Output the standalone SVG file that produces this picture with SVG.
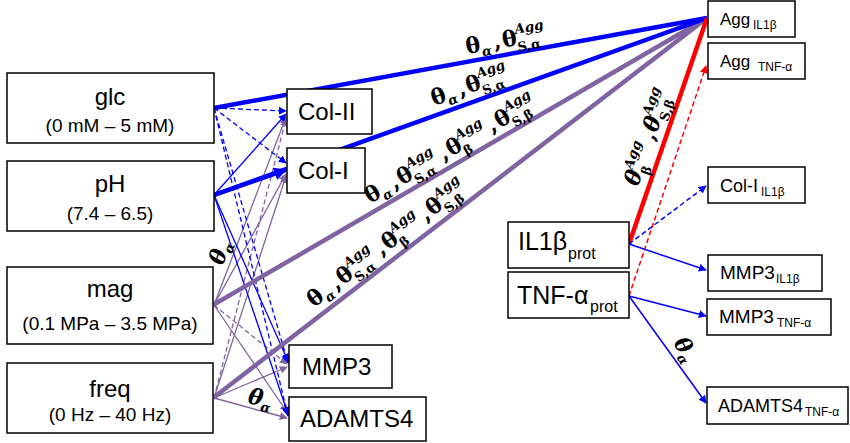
<svg xmlns="http://www.w3.org/2000/svg" width="850" height="443" viewBox="0 0 850 443">
<style>
.box{fill:#fff;stroke:#000;stroke-width:1.5}
.t{font-family:"Liberation Sans",Arial,sans-serif;fill:#000}
.b{stroke:#0000ff;fill:none}
.p{stroke:#8064a2;fill:none}
.r{stroke:#ff0000;fill:none}
.thin{stroke-width:1.3}
.thick{stroke-width:4.5}
.d{stroke-dasharray:5,3}
.m{font-family:"DejaVu Serif",serif;font-weight:bold;font-size:22px;fill:#000}
.sup{font-size:13.5px;font-style:italic}
.sub{font-size:13px}
.it{font-style:italic}
</style>
<defs>
<marker id="ab" viewBox="0 0 10 10" refX="9" refY="5" markerWidth="8" markerHeight="8" markerUnits="userSpaceOnUse" orient="auto"><path d="M0,0 L10,5 L0,10 z" fill="#0000ff"/></marker>
<marker id="abL" viewBox="0 0 10 10" refX="9" refY="5" markerWidth="13" markerHeight="13" markerUnits="userSpaceOnUse" orient="auto"><path d="M0,0 L10,5 L0,10 z" fill="#0000ff"/></marker>
<marker id="ap" viewBox="0 0 10 10" refX="9" refY="5" markerWidth="8" markerHeight="8" markerUnits="userSpaceOnUse" orient="auto"><path d="M0,0 L10,5 L0,10 z" fill="#8064a2"/></marker>
<marker id="ar" viewBox="0 0 10 10" refX="9" refY="5" markerWidth="8" markerHeight="8" markerUnits="userSpaceOnUse" orient="auto"><path d="M0,0 L10,5 L0,10 z" fill="#ff0000"/></marker>
</defs>

<g id="connectors">
  <line class="p thin" x1="214" y1="305" x2="286" y2="117" marker-end="url(#ap)"/>
  <line class="p thin" x1="214" y1="305" x2="286" y2="174" marker-end="url(#ap)"/>
  <line class="p thin d" x1="214" y1="398" x2="286" y2="119" marker-end="url(#ap)"/>
  <line class="p thin" x1="214" y1="398" x2="286" y2="176" marker-end="url(#ap)"/>
  <line class="p thin d" x1="214" y1="305" x2="287" y2="364" marker-end="url(#ap)"/>
  <line class="p thin" x1="214" y1="305" x2="287" y2="412" marker-end="url(#ap)"/>
  <line class="p thin" x1="214" y1="398" x2="287" y2="367" marker-end="url(#ap)"/>
  <line class="p thin" x1="214" y1="398" x2="287" y2="418" marker-end="url(#ap)"/>
  <line class="b thin d" x1="214" y1="108" x2="286" y2="111" marker-end="url(#ab)"/>
  <line class="b thin d" x1="214" y1="108" x2="286" y2="163" marker-end="url(#ab)"/>
  <line class="b thin d" x1="214" y1="108" x2="288" y2="363" marker-end="url(#ab)"/>
  <line class="b thin d" x1="214" y1="108" x2="288" y2="416" marker-end="url(#ab)"/>
  <line class="b thin" x1="214" y1="195" x2="286" y2="114" marker-end="url(#ab)"/>
  <line class="b thin" x1="214" y1="195" x2="288" y2="361" marker-end="url(#ab)"/>
  <line class="b thin" x1="214" y1="195" x2="288" y2="414" marker-end="url(#ab)"/>
  <line class="b" stroke-width="4" x1="214" y1="195" x2="286" y2="170" marker-end="url(#abL)"/>
  <line class="p thick" x1="213" y1="305" x2="707" y2="18"/>
  <line class="p thick" x1="213" y1="398" x2="707" y2="18"/>
  <line class="b thick" x1="214" y1="108" x2="707" y2="18"/>
  <line class="b thick" x1="214" y1="195" x2="707" y2="18"/>
  <line class="r thick" x1="629" y1="244" x2="707" y2="18"/>
  <line class="r d" stroke-width="1.5" x1="629" y1="296" x2="706" y2="66" marker-end="url(#ar)"/>
  <line class="b d" stroke-width="1.5" x1="629" y1="244" x2="706" y2="186" marker-end="url(#ab)"/>
  <line class="b" stroke-width="1.5" x1="629" y1="244" x2="706" y2="270" marker-end="url(#ab)"/>
  <line class="b" stroke-width="1.5" x1="629" y1="296" x2="706" y2="316" marker-end="url(#ab)"/>
  <line class="b" stroke-width="1.5" x1="629" y1="296" x2="706" y2="403" marker-end="url(#ab)"/>
</g>

<g id="glc"><rect class="box" x="7" y="73" width="207" height="70"/>
  <text class="t" x="110" y="105" font-size="24" text-anchor="middle">glc</text>
  <text class="t" x="110" y="132" font-size="19" text-anchor="middle">(0 mM – 5 mM)</text></g>
<g id="pH"><rect class="box" x="7" y="161" width="207" height="70"/>
  <text class="t" x="110" y="192" font-size="24" text-anchor="middle">pH</text>
  <text class="t" x="110" y="220" font-size="19" text-anchor="middle">(7.4 – 6.5)</text></g>
<g id="mag"><rect class="box" x="7" y="267" width="206" height="77"/>
  <text class="t" x="110" y="297" font-size="24" text-anchor="middle">mag</text>
  <text class="t" x="110" y="330" font-size="19" text-anchor="middle">(0.1 MPa – 3.5 MPa)</text></g>
<g id="freq"><rect class="box" x="7" y="363" width="206" height="70"/>
  <text class="t" x="110" y="397" font-size="24" text-anchor="middle">freq</text>
  <text class="t" x="110" y="421" font-size="19" text-anchor="middle">(0 Hz – 40 Hz)</text></g>

<g id="colII"><rect class="box" x="287" y="89" width="85" height="45"/>
  <text class="t" x="298" y="120" font-size="24">Col-II</text></g>
<g id="colI"><rect class="box" x="287" y="148" width="78" height="45"/>
  <text class="t" x="298" y="179" font-size="24">Col-I</text></g>
<g id="mmp3"><rect class="box" x="289" y="345" width="103" height="43"/>
  <text class="t" x="302" y="375" font-size="24">MMP3</text></g>
<g id="adamts4"><rect class="box" x="289" y="397" width="137" height="44"/>
  <text class="t" x="300" y="427" font-size="24">ADAMTS4</text></g>

<g id="aggIL1b"><rect class="box" x="708" y="1" width="87" height="36"/>
  <text class="t" x="720" y="25" font-size="17">Agg</text>
  <text class="t" x="753" y="29" font-size="12">IL1β</text></g>
<g id="aggTNF"><rect class="box" x="708" y="43" width="97" height="36"/>
  <text class="t" x="720" y="67" font-size="17">Agg</text>
  <text class="t" x="758" y="71" font-size="12">TNF-α</text></g>
<g id="colIIL1b"><rect class="box" x="708" y="167" width="97" height="36"/>
  <text class="t" x="720" y="192" font-size="18">Col-I</text>
  <text class="t" x="761" y="196" font-size="12">IL1β</text></g>
<g id="il1bprot"><rect class="box" x="508" y="222" width="121" height="46"/>
  <text class="t" x="518" y="250" font-size="25">IL1β</text>
  <text class="t" x="568" y="259" font-size="16">prot</text></g>
<g id="tnfprot"><rect class="box" x="508" y="272" width="121" height="46"/>
  <text class="t" x="517" y="304" font-size="25">TNF-α</text>
  <text class="t" x="590" y="312" font-size="16">prot</text></g>
<g id="mmp3IL1b"><rect class="box" x="708" y="255" width="114" height="36"/>
  <text class="t" x="720" y="279" font-size="19">MMP3</text>
  <text class="t" x="776" y="283" font-size="12">IL1β</text></g>
<g id="mmp3TNF"><rect class="box" x="707" y="299" width="124" height="36"/>
  <text class="t" x="719" y="323" font-size="19">MMP3</text>
  <text class="t" x="777" y="327" font-size="12">TNF-α</text></g>
<g id="adamts4TNF"><rect class="box" x="707" y="387" width="141" height="37"/>
  <text class="t" x="718" y="412" font-size="18">ADAMTS4</text>
  <text class="t" x="805" y="416" font-size="12">TNF-α</text></g>

<g id="labels">
  <text class="m" transform="translate(467,54) rotate(-10.3)"><tspan x="0" y="0">θ</tspan><tspan class="sub it" x="15" y="5">α</tspan><tspan x="28" y="0">,</tspan><tspan x="37" y="0">θ</tspan><tspan class="sup" x="51" y="-11">Agg</tspan><tspan class="sub" x="51" y="7">S,α</tspan></text>
  <text class="m" transform="translate(434,106) rotate(-19.8)"><tspan x="0" y="0">θ</tspan><tspan class="sub it" x="15" y="5">α</tspan><tspan x="28" y="0">,</tspan><tspan x="37" y="0">θ</tspan><tspan class="sup" x="51" y="-11">Agg</tspan><tspan class="sub" x="51" y="7">S,α</tspan></text>
  <text class="m" transform="translate(370,204) rotate(-30.2)"><tspan x="0" y="0">θ</tspan><tspan class="sub it" x="15" y="5">α</tspan><tspan x="28" y="0">,</tspan><tspan x="37" y="0">θ</tspan><tspan class="sup" x="51" y="-11">Agg</tspan><tspan class="sub" x="51" y="7">S,α</tspan><tspan x="85" y="0">,</tspan><tspan x="94" y="0">θ</tspan><tspan class="sup" x="108" y="-11">Agg</tspan><tspan class="sub" x="108" y="7">β</tspan><tspan x="141" y="0">,</tspan><tspan x="150" y="0">θ</tspan><tspan class="sup" x="164" y="-11">Agg</tspan><tspan class="sub" x="164" y="7">S,β</tspan></text>
  <text class="m" transform="translate(314,308) rotate(-37.6)"><tspan x="0" y="0">θ</tspan><tspan class="sub it" x="15" y="5">α</tspan><tspan x="28" y="0">,</tspan><tspan x="37" y="0">θ</tspan><tspan class="sup" x="51" y="-11">Agg</tspan><tspan class="sub" x="51" y="7">S,α</tspan><tspan x="85" y="0">,</tspan><tspan x="94" y="0">θ</tspan><tspan class="sup" x="108" y="-11">Agg</tspan><tspan class="sub" x="108" y="7">β</tspan><tspan x="141" y="0">,</tspan><tspan x="150" y="0">θ</tspan><tspan class="sup" x="164" y="-11">Agg</tspan><tspan class="sub" x="164" y="7">S,β</tspan></text>
  <text class="m" transform="translate(638,187) rotate(-70.9)"><tspan class="it" x="0" y="0">θ</tspan><tspan class="sup" x="14" y="-11">Agg</tspan><tspan class="sub" x="14" y="7">β</tspan><tspan x="48" y="0">,</tspan><tspan class="it" x="57" y="0">θ</tspan><tspan class="sup" x="71" y="-11">Agg</tspan><tspan class="sub" x="71" y="7">S,β</tspan></text>
  <text class="m" transform="translate(223,266) rotate(-72)"><tspan class="it" x="0" y="0">θ</tspan><tspan class="sub it" x="14" y="5">α</tspan></text>
  <text class="m" transform="translate(247,403) rotate(12)"><tspan class="it" x="0" y="0">θ</tspan><tspan class="sub it" x="14" y="5">α</tspan></text>
  <text class="m" transform="translate(673,343) rotate(58)"><tspan class="it" x="0" y="0">θ</tspan><tspan class="sub it" x="14" y="5">α</tspan></text>
</g>
</svg>
